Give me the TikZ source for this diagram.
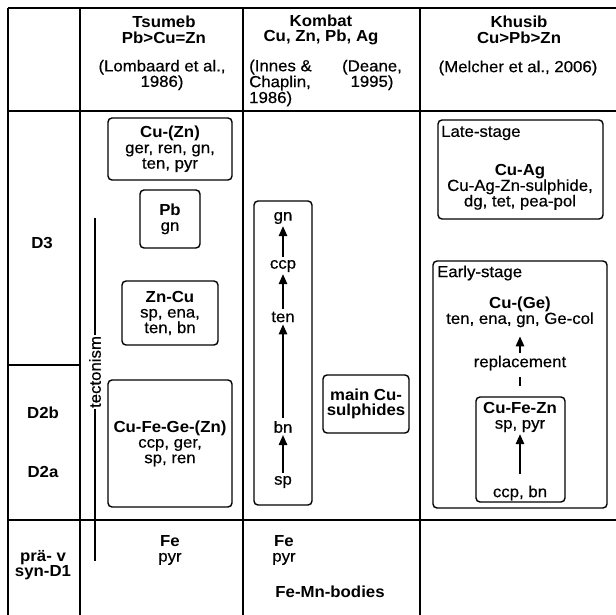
\documentclass[tikz,border=0pt]{standalone}
\usepackage{fontspec}
\setmainfont[FakeStretch=1.05, UprightFeatures={FakeBold=0.5}]{Liberation Sans}
\usetikzlibrary{arrows.meta}
\begin{document}
\begin{tikzpicture}[x=1pt,y=-1pt,
  every node/.style={font=\fontsize{16}{15.5}\selectfont, inner sep=1pt},
  tline/.style={line width=1.2pt},
  box/.style={draw, rounded corners=4pt, line width=1.4pt, align=center},
  arr/.style={line width=1.5pt, -{Triangle[length=10pt,width=8.5pt]}, shorten <=2pt, shorten >=1pt},
  bt/.style={font=\fontsize{16}{15.5}\selectfont\bfseries, align=center},
  rt/.style={align=center}]
\useasboundingbox (0,0) rectangle (616,615);
% table
\draw[tline] (8,8) -- (616,8);
\draw[tline] (8,111) -- (616,111);
\draw[tline] (8,520) -- (616,520);
\draw[tline] (8,365) -- (80,365);
\draw[tline] (8,8) -- (8,615);
\draw[tline] (80,8) -- (80,615);
\draw[tline] (243,8) -- (243,615);
\draw[tline] (420,8) -- (420,615);
% headers
\node[bt] (hts) at (164,30) {Tsumeb\\Pb>Cu=Zn};
\node[rt] (rts) at (162,75) {(Lombaard et al.,\\1986)};
\node[bt] (hko) at (321,30) {Kombat\\Cu, Zn, Pb, Ag};
\node[align=left, anchor=west, font=\fontsize{16}{14.5}\selectfont] (rko1) at (248,83) {(Innes \&\\Chaplin,\\1986)};
\node[rt] (rko2) at (372,75) {(Deane,\\1995)};
\node[bt] (hkh) at (519,30) {Khusib\\Cu>Pb>Zn};
\node[rt] (rkh) at (518,68) {(Melcher et al., 2006)};
% stage labels
\node[bt] (d3) at (42,243) {D3};
\node[bt] (d2b) at (43,413) {D2b};
\node[bt] (d2a) at (43,472) {D2a};
\node[bt] (d1) at (43,565) {prä- v\\syn-D1};
% Tsumeb
\node[box, minimum width=124pt, minimum height=62pt] (cuzn) at (170,149) {\textbf{Cu-(Zn)}\\ger, ren, gn,\\ten, pyr};
\node[box, minimum width=60pt, minimum height=58pt] (pb) at (170,219) {\textbf{Pb}\\gn};
\node[box, minimum width=96pt, minimum height=64pt] (zncu) at (170,313) {\textbf{Zn-Cu}\\sp, ena,\\ten, bn};
\node[box, minimum width=124pt, minimum height=127pt] (cufege) at (170,443.5) {\textbf{Cu-Fe-Ge-(Zn)}\\ccp, ger,\\sp, ren};
\node[rt] (tsfe) at (170,550) {\textbf{Fe}\\pyr};
% tectonism
\coordinate (ttop) at (95,218);
\coordinate (tbot) at (95,561);
\node[rotate=90] (tect) at (95,372) {tectonism};
\draw[line width=1.2pt] (ttop) -- (tect.east);
\draw[line width=1.2pt] (tect.west) -- (tbot);
% Kombat
\node[box, minimum width=58pt, minimum height=304pt] (kbox) at (283,353) {};
\node (kgn) at (283,218) {gn};
\node (kccp) at (283,266) {ccp};
\node (kten) at (283,317) {ten};
\node (kbn) at (283,427) {bn};
\node (ksp) at (283,482) {sp};
\draw[arr] (ksp) -- (kbn);
\draw[arr] (kbn) -- (kten);
\draw[arr] (kten) -- (kccp);
\draw[arr] (kccp) -- (kgn);
\node[box, minimum width=86pt, minimum height=58pt, font=\fontsize{16}{15.5}\selectfont\bfseries] (main) at (366,404) {main Cu-\\sulphides};
\node[rt] (kofe) at (284,550) {\textbf{Fe}\\pyr};
\node[bt] (femn) at (330,592) {Fe-Mn-bodies};
% Khusib
\node[box, minimum width=165pt, minimum height=99pt] (late) at (520.5,169.5) {};
\node[anchor=west] (latel) at (440,133) {Late-stage};
\node[rt] (cuag) at (520,187) {\textbf{Cu-Ag}\\Cu-Ag-Zn-sulphide,\\dg, tet, pea-pol};
\node[box, minimum width=174pt, minimum height=247pt] (early) at (520,384.5) {};
\node[anchor=west] (earlyl) at (436,273) {Early-stage};
\node[rt] (cuge) at (520,312) {\textbf{Cu-(Ge)}\\ten, ena, gn, Ge-col};
\node[fill=white] (repl) at (520,363) {replacement};
\coordinate (rtail) at (520,386);
\draw[line width=1.5pt, shorten >=5pt] (rtail) -- (repl.south);
\draw[arr, shorten >=8pt, shorten <=1pt] (repl) -- (cuge);
\node[box, minimum width=89pt, minimum height=105pt] (cufezn) at (520.5,449.5) {};
\node[rt] (cufeznt) at (520,417) {\textbf{Cu-Fe-Zn}\\sp, pyr};
\node (ccpbn) at (520,493) {ccp, bn};
\draw[arr, shorten <=10pt] (ccpbn) -- (cufeznt);
\end{tikzpicture}
\end{document}
